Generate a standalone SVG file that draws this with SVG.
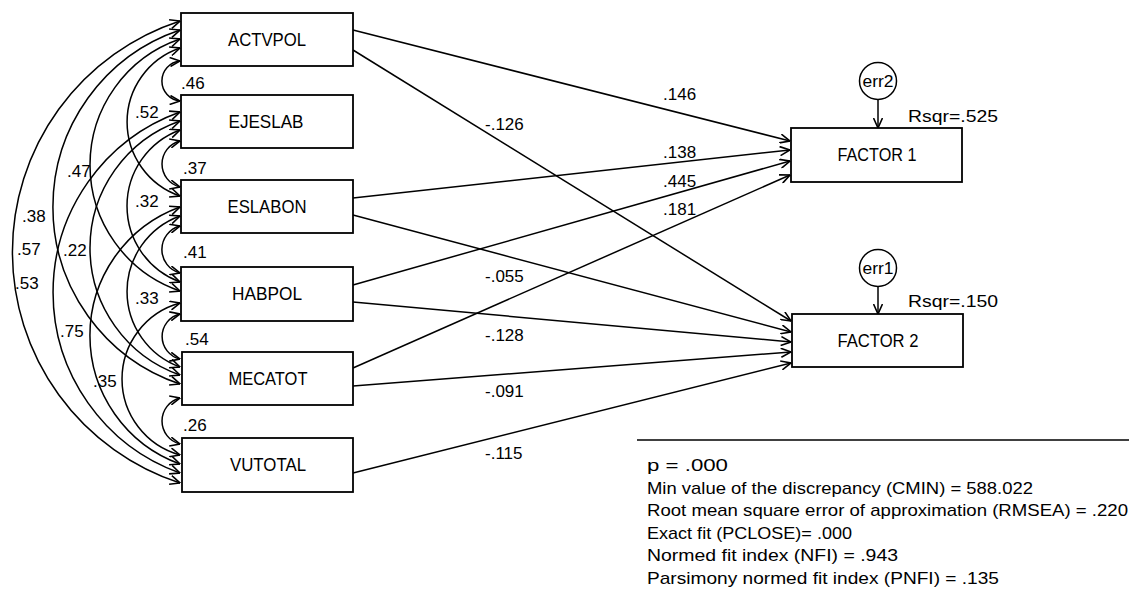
<svg xmlns="http://www.w3.org/2000/svg" width="1129" height="605" viewBox="0 0 1129 605">
<style>
.box{fill:#fff;stroke:#000;stroke-width:1.8}
.t{font-family:"Liberation Sans",Arial,sans-serif;fill:#000}
.nm{font-size:18px;text-anchor:middle}
.num{font-size:17px}
.fit{font-size:17px}
.conn{fill:none;stroke:#000;stroke-width:1.5;marker-end:url(#ah)}
.cor{fill:none;stroke:#000;stroke-width:1.5;marker-start:url(#ah);marker-end:url(#ah)}
</style>
<defs>
<marker id="ah" viewBox="0 0 10 10" refX="10" refY="5" markerWidth="11" markerHeight="10" markerUnits="userSpaceOnUse" orient="auto-start-reverse">
<path d="M0,0.5 L10,5 L0,9.5" fill="none" stroke="#000" stroke-width="1.6"/>
</marker>
</defs>
<rect width="1129" height="605" fill="#fff"/>

<g id="connectors">
<!-- correlations -->
<path class="cor" d="M180,61 A20.1,20.1 0 0 0 180,101"/>
<path class="cor" d="M180,141 A23.7,23.7 0 0 0 180,187"/>
<path class="cor" d="M180,226 A24.3,24.3 0 0 0 180,273"/>
<path class="cor" d="M180,314 A23.1,23.1 0 0 0 180,359"/>
<path class="cor" d="M180,398 A23.7,23.7 0 0 0 180,444"/>
<path class="cor" d="M180,48 A78.2,78.2 0 0 0 180,196"/>
<path class="cor" d="M180,130 A81,81 0 0 0 180,282"/>
<path class="cor" d="M180,216 A80.3,80.3 0 0 0 180,367"/>
<path class="cor" d="M180,303 A78.8,78.8 0 0 0 180,455"/>
<path class="cor" d="M180,39 A133.2,133.2 0 0 0 180,291"/>
<path class="cor" d="M180,121 A134.6,134.6 0 0 0 180,375"/>
<path class="cor" d="M180,207 A136.7,136.7 0 0 0 180,464"/>
<path class="cor" d="M180,30 A186.8,186.8 0 0 0 180,384"/>
<path class="cor" d="M180,112 A191.8,191.8 0 0 0 180,473"/>
<path class="cor" d="M180,21 A243,243 0 0 0 180,483"/>
<!-- regressions -->
<path class="conn" d="M353,30 L790,141"/>
<path class="conn" d="M353,50 L791,321"/>
<path class="conn" d="M353,198 L790,150"/>
<path class="conn" d="M353,215 L791,332"/>
<path class="conn" d="M353,285 L790,161"/>
<path class="conn" d="M353,302 L791,342"/>
<path class="conn" d="M353,368 L790,175"/>
<path class="conn" d="M353,386 L791,352"/>
<path class="conn" d="M353,473 L791,363"/>
<!-- error arrows -->
<path class="conn" d="M878,100 L878,128"/>
<path class="conn" d="M878,287 L878,314"/>
<!-- correlation labels -->
<text class="t num" x="181" y="89">.46</text>
<text class="t num" x="135" y="118">.52</text>
<text class="t num" x="183" y="174">.37</text>
<text class="t num" x="67" y="177">.47</text>
<text class="t num" x="135" y="207">.32</text>
<text class="t num" x="22" y="222">.38</text>
<text class="t num" x="17" y="255">.57</text>
<text class="t num" x="63" y="256">.22</text>
<text class="t num" x="183" y="258">.41</text>
<text class="t num" x="15" y="289">.53</text>
<text class="t num" x="135" y="304">.33</text>
<text class="t num" x="60" y="337">.75</text>
<text class="t num" x="185" y="345">.54</text>
<text class="t num" x="93" y="387">.35</text>
<text class="t num" x="183" y="431">.26</text>
<!-- path labels -->
<text class="t num" x="663" y="100">.146</text>
<text class="t num" x="485" y="130">-.126</text>
<text class="t num" x="663" y="158">.138</text>
<text class="t num" x="663" y="187">.445</text>
<text class="t num" x="663" y="215">.181</text>
<text class="t num" x="485" y="282">-.055</text>
<text class="t num" x="485" y="341">-.128</text>
<text class="t num" x="485" y="397">-.091</text>
<text class="t num" x="485" y="459">-.115</text>
</g>

<g id="ACTVPOL"><rect class="box" x="181" y="13" width="172" height="53"/><text class="t nm" x="267" y="46" textLength="78" lengthAdjust="spacingAndGlyphs">ACTVPOL</text></g>
<g id="EJESLAB"><rect class="box" x="181" y="95" width="172" height="53"/><text class="t nm" x="266" y="128" textLength="75" lengthAdjust="spacingAndGlyphs">EJESLAB</text></g>
<g id="ESLABON"><rect class="box" x="181" y="180" width="172" height="53"/><text class="t nm" x="267" y="213" textLength="79" lengthAdjust="spacingAndGlyphs">ESLABON</text></g>
<g id="HABPOL"><rect class="box" x="181" y="267" width="172" height="54"/><text class="t nm" x="267" y="300" textLength="70" lengthAdjust="spacingAndGlyphs">HABPOL</text></g>
<g id="MECATOT"><rect class="box" x="182" y="352" width="171" height="53"/><text class="t nm" x="268" y="385" textLength="79" lengthAdjust="spacingAndGlyphs">MECATOT</text></g>
<g id="VUTOTAL"><rect class="box" x="182" y="438" width="171" height="54"/><text class="t nm" x="268" y="471" textLength="76" lengthAdjust="spacingAndGlyphs">VUTOTAL</text></g>

<g id="FACTOR1"><rect class="box" x="791" y="128" width="171" height="54"/><text class="t nm" x="877" y="161" textLength="79" lengthAdjust="spacingAndGlyphs">FACTOR 1</text><text class="t num" x="908" y="122" textLength="90" lengthAdjust="spacingAndGlyphs">Rsqr=.525</text></g>
<g id="FACTOR2"><rect class="box" x="792" y="314" width="171" height="53"/><text class="t nm" x="878" y="347" textLength="81" lengthAdjust="spacingAndGlyphs">FACTOR 2</text><text class="t num" x="908" y="307" textLength="90" lengthAdjust="spacingAndGlyphs">Rsqr=.150</text></g>

<g id="err2"><circle cx="878" cy="81" r="18.5" fill="#fff" stroke="#000" stroke-width="1.5"/><text class="t" x="878" y="87" font-size="16" text-anchor="middle" textLength="31" lengthAdjust="spacingAndGlyphs">err2</text></g>
<g id="err1"><circle cx="878" cy="268" r="18.5" fill="#fff" stroke="#000" stroke-width="1.5"/><text class="t" x="878" y="274" font-size="16" text-anchor="middle" textLength="31" lengthAdjust="spacingAndGlyphs">err1</text></g>

<g id="fit">
<line x1="637" y1="440" x2="1129" y2="440" stroke="#000" stroke-width="1.6"/>
<text class="t fit" x="647" y="471" textLength="81" lengthAdjust="spacingAndGlyphs">p = .000</text>
<text class="t fit" x="647" y="494" textLength="386" lengthAdjust="spacingAndGlyphs">Min value of the discrepancy (CMIN) = 588.022</text>
<text class="t fit" x="647" y="516" textLength="481" lengthAdjust="spacingAndGlyphs">Root mean square error of approximation (RMSEA) = .220</text>
<text class="t fit" x="647" y="539" textLength="205" lengthAdjust="spacingAndGlyphs">Exact fit (PCLOSE)= .000</text>
<text class="t fit" x="647" y="561" textLength="251" lengthAdjust="spacingAndGlyphs">Normed fit index (NFI) = .943</text>
<text class="t fit" x="647" y="584" textLength="352" lengthAdjust="spacingAndGlyphs">Parsimony normed fit index (PNFI) = .135</text>
</g>
</svg>
